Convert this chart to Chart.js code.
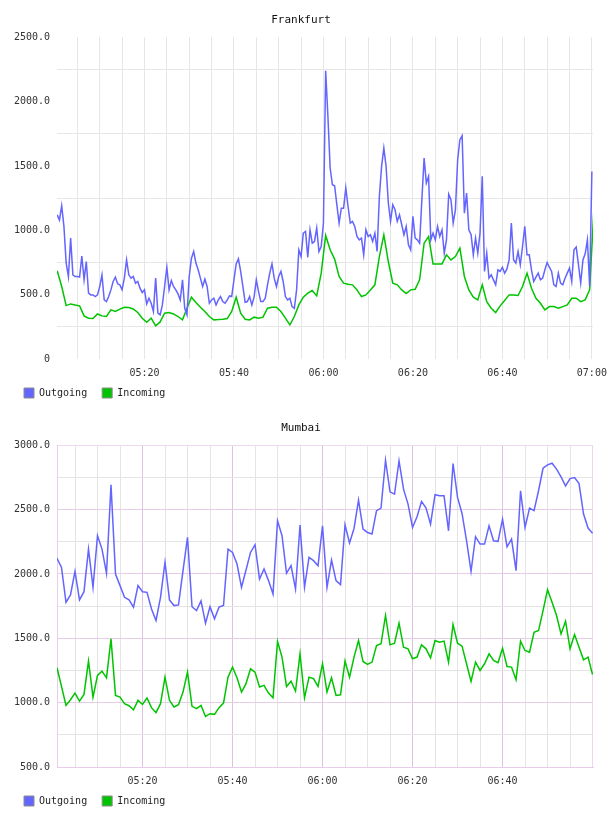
<!DOCTYPE html>
<html>
<head>
<meta charset="utf-8">
<script src="https://cdn.jsdelivr.net/npm/chart.js@4.4.0/dist/chart.umd.min.js"></script>
<style>
  body { margin: 0; background: #fff; }
  canvas { display: block; }
</style>
</head>
<body>
<canvas id="frankfurt" width="608" height="408"></canvas>
<canvas id="mumbai" width="608" height="408"></canvas>
<script>
// minutes after 05:00, one sample every fraOutStep minutes
const fraOutStart = 0.5, fraOutStep = 0.5;
const fraOut = [
  1120,1080,1190,1030,745,640,940,654,641,641,
  636,800,615,757,511,498,498,485,498,563,
  654,459,446,485,537,602,636,584,576,537,
  628,770,654,628,641,589,602,550,516,537,
  428,472,433,369,628,356,343,420,563,713,
  537,610,563,537,506,459,615,394,343,641,
  783,835,745,693,628,563,620,563,433,459,
  472,420,459,485,446,433,459,490,485,615,
  739,778,680,563,441,446,485,420,480,615,
  524,446,446,472,576,667,739,628,563,641,
  680,602,485,459,472,407,394,537,848,796,
  978,991,790,1004,900,913,1017,835,874,1056,
  2240,1885,1484,1354,1346,1198,1056,1172,1172,1330,
  1185,1056,1069,1030,952,926,939,809,1004,952,
  965,913,978,835,1263,1496,1640,1496,1214,1069,
  1198,1159,1069,1120,1043,965,1030,887,848,1108,
  939,926,900,1237,1561,1367,1418,926,978,926,
  1030,952,1004,822,926,1280,1237,1056,1159,1548,
  1704,1735,1133,1289,1004,965,809,939,822,978,
  1420,680,822,628,654,615,576,693,680,713,
  667,698,770,1056,770,745,835,732,874,1030,
  809,809,693,602,636,667,615,628,693,750,
  713,680,576,563,667,589,576,628,667,706,
  602,848,869,732,589,770,817,926,563,1457
];
const fraInStart = 0.5, fraInStep = 1;
const fraIn = [
  685,563,415,428,420,413,335,317,314,350,
  335,330,382,369,387,402,400,389,361,317,
  286,317,257,288,356,361,350,330,304,395,
  480,439,402,369,330,304,306,309,314,369,
  480,356,309,304,325,317,325,395,402,402,
  369,317,265,330,420,480,511,532,490,667,
  960,848,776,641,589,581,576,537,485,498,
  537,576,796,965,757,589,576,537,509,537,
  542,615,900,952,739,739,739,809,770,796,
  861,641,537,480,459,576,446,394,361,413,
  454,498,498,493,563,667,550,472,433,382,
  407,407,394,407,420,472,472,446,459,537,
  1200
];

const mumStart = 1, mumStep = 1;
const mumOut = [
  2121,2051,1780,1837,2020,1798,1862,2193,1896,2297,
  2193,2005,2692,1999,1909,1818,1798,1741,1909,1862,
  1857,1728,1638,1818,2090,1798,1754,1759,2025,2284,
  1745,1715,1790,1617,1745,1651,1742,1755,2193,2167,
  2077,1896,2030,2167,2227,1961,2038,1948,1844,2413,
  2297,2005,2064,1883,2379,1896,2129,2103,2064,2374,
  1896,2108,1948,1917,2382,2240,2353,2573,2348,2322,
  2310,2491,2511,2883,2638,2620,2878,2659,2542,2361,
  2444,2563,2511,2387,2615,2607,2607,2335,2858,2594,
  2470,2258,2020,2289,2232,2232,2374,2258,2253,2426,
  2211,2271,2025,2646,2361,2511,2491,2646,2821,2847,
  2860,2814,2754,2684,2741,2749,2702,2465,2356,2315
];
const mumIn = [
  1271,1126,979,1023,1074,1012,1064,1323,1043,1211,
  1245,1193,1496,1056,1043,992,976,945,1018,986,
  1036,961,922,992,1198,1018,966,984,1082,1237,
  971,953,979,893,914,909,961,997,1198,1276,
  1193,1082,1147,1263,1237,1121,1134,1074,1038,1475,
  1354,1126,1167,1090,1379,1038,1198,1186,1126,1302,
  1082,1193,1056,1061,1323,1198,1354,1483,1320,1297,
  1315,1444,1457,1677,1449,1462,1617,1431,1418,1341,
  1354,1449,1418,1348,1483,1470,1478,1315,1607,1462,
  1439,1302,1165,1315,1250,1302,1379,1328,1310,1423,
  1281,1276,1178,1478,1405,1392,1547,1560,1715,1878,
  1780,1677,1534,1633,1418,1529,1431,1333,1354,1219
];

// axis ticks (x in minutes after 05:00)
const fraXTicks = [5,10,15,20,25,30,35,40,45,50,55,60,65,70,75,80,85,90,95,100,105,110,115,120];
const fraXLabels = [20,40,60,80,100,120];
const fraYTicks = [0,250,500,750,1000,1250,1500,1750,2000,2250,2500];
const mumXTicks = [5,10,15,20,25,30,35,40,45,50,55,60,65,70,75,80,85,90,95,100,105,110,115,120];
const mumXLabels = [20,40,60,80,100];
const mumYTicks = [500,750,1000,1250,1500,1750,2000,2250,2500,2750,3000];

const FONT = "'DejaVu Sans Mono', monospace";
const OUT_COLOR = '#6464ff';
const IN_COLOR = '#00c400';

function toPoints(start, step, values) {
  return values.map((v, i) => ({ x: start + i * step, y: v }));
}

function clock(v) {
  const h = 5 + Math.floor(v / 60);
  const m = v % 60;
  return String(h).padStart(2, '0') + ':' + String(m).padStart(2, '0');
}

// legend sits a bit higher than chart.js puts it (box spacing needs the larger padding)
const legendLift = {
  id: 'legendLift',
  afterLayout(chart) {
    chart.legend.top -= 6;
    chart.legend.bottom -= 6;
  }
};

function buildChart(id, cfg) {
  return new Chart(document.getElementById(id), {
    type: 'line',
    data: {
      datasets: [
        { label: 'Outgoing', data: cfg.out, borderColor: OUT_COLOR, backgroundColor: OUT_COLOR },
        { label: 'Incoming', data: cfg.inc, borderColor: IN_COLOR, backgroundColor: IN_COLOR }
      ]
    },
    plugins: [legendLift],
    options: {
      responsive: false,
      animation: false,
      layout: { padding: { left: 9, right: 15, top: 0, bottom: 0 } },
      elements: {
        point: { radius: 0 },
        line: { borderWidth: 1.5, tension: 0 }
      },
      plugins: {
        title: {
          display: true,
          text: cfg.title,
          color: '#111',
          font: { family: FONT, size: 11, weight: 'normal' },
          padding: { top: 14, bottom: 10 }
        },
        legend: {
          position: 'bottom',
          align: 'start',
          maxHeight: 29,
          labels: {
            boxWidth: 10,
            boxHeight: 10,
            padding: 15,
            color: '#222',
            font: { family: FONT, size: 10 },
            generateLabels: chart => Chart.defaults.plugins.legend.labels.generateLabels(chart)
              .map(l => Object.assign(l, { strokeStyle: '#8c8c8c', lineWidth: 1 }))
          }
        },
        tooltip: { enabled: false }
      },
      scales: {
        x: {
          type: 'linear',
          min: cfg.xMin,
          max: cfg.xMax,
          afterBuildTicks: s => { s.ticks = cfg.xTicks.map(v => ({ value: v })); },
          afterFit: s => { s.height = 20; s.paddingLeft = 0; s.paddingRight = 0; },
          ticks: {
            autoSkip: false,
            maxRotation: 0,
            padding: 8,
            color: '#333',
            font: { family: FONT, size: 10 },
            callback: v => cfg.xLabels.includes(v) ? clock(v) : ''
          },
          grid: { drawTicks: false, color: c => cfg.xGrid(c.tick.value) },
          border: cfg.border
        },
        y: {
          min: cfg.yMin,
          max: cfg.yMax,
          afterBuildTicks: s => { s.ticks = cfg.yTicks.map(v => ({ value: v })); },
          afterFit: s => { s.width = 48; },
          ticks: {
            padding: 7,
            color: '#333',
            font: { family: FONT, size: 10 },
            callback: v => v % 500 !== 0 ? '' : (v === 0 ? '0' : v.toFixed(1))
          },
          grid: { drawTicks: false, color: c => cfg.yGrid(c.tick.value) },
          border: cfg.border
        }
      }
    }
  });
}

buildChart('frankfurt', {
  title: 'Frankfurt',
  out: toPoints(fraOutStart, fraOutStep, fraOut),
  inc: toPoints(fraInStart, fraInStep, fraIn),
  xMin: 0.45, xMax: 120.25, xTicks: fraXTicks, xLabels: fraXLabels,
  yMin: 0, yMax: 2500, yTicks: fraYTicks,
  xGrid: v => '#e6e6e6',
  yGrid: v => v % 500 === 0 ? 'rgba(0,0,0,0)' : '#e6e6e6',
  border: { display: false }
});

buildChart('mumbai', {
  title: 'Mumbai',
  out: toPoints(mumStart, mumStep, mumOut),
  inc: toPoints(mumStart, mumStep, mumIn),
  xMin: 1, xMax: 120.1, xTicks: mumXTicks, xLabels: mumXLabels,
  yMin: 500, yMax: 3000, yTicks: mumYTicks,
  xGrid: v => v === 120 ? '#ecd6ec' : (v % 20 === 0 ? '#dcc2dc' : '#e4e4e4'),
  yGrid: v => (v === 500 || v === 3000) ? '#eedaee' : (v % 500 === 0 ? '#e6cce6' : '#e4e4e4'),
  border: { display: true, color: '#e8cce8', width: 1 }
});
</script>
</body>
</html>
